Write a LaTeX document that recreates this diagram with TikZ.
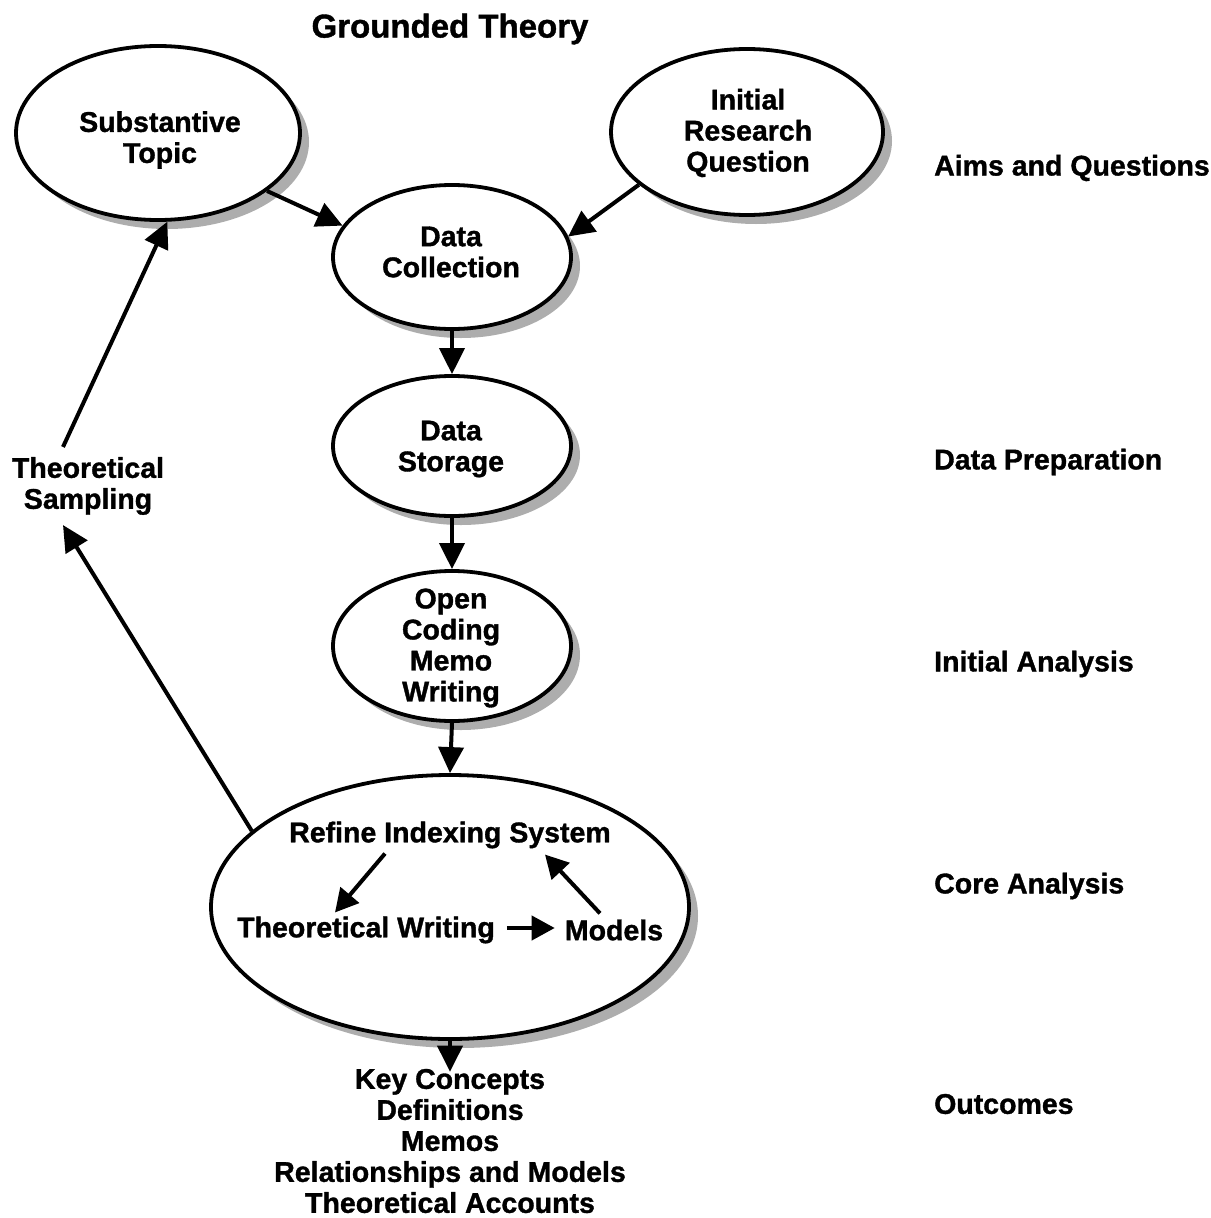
\documentclass[tikz,border=0pt]{standalone}
\usepackage{fontspec}
\setmainfont{Liberation Sans}[BoldFeatures={FakeBold=1.2}]
\usetikzlibrary{shapes.geometric,arrows.meta,shadows,calc}
\begin{document}
\begin{tikzpicture}[x=1pt,y=-1pt,
  txt/.style={font=\bfseries\fontsize{28.5}{31}\selectfont, align=center, inner sep=2pt},
  ell/.style={ellipse, draw=black, line width=3.8pt, fill=white, inner sep=0pt,
    drop shadow={shadow xshift=9pt, shadow yshift=-9pt, fill=gray!75, opacity=0.85}},
  arr/.style={line width=4pt, -{Triangle[length=26pt,width=25pt]}},
  sarr/.style={line width=4pt, -{Triangle[length=23pt,width=24pt]}}
]
\useasboundingbox (0,0) rectangle (1210,1218);

% title
\node[txt, font=\bfseries\fontsize{33}{36}\selectfont] (title) at (450,29) {Grounded Theory};

% stage labels
\node[txt, anchor=west] (l1) at (932,168) {Aims and Questions};
\node[txt, anchor=west] (l2) at (932,462) {Data Preparation};
\node[txt, anchor=west] (l3) at (932,664) {Initial Analysis};
\node[txt, anchor=west] (l4) at (932,886) {Core Analysis};
\node[txt, anchor=west] (l5) at (932,1104) {Outcomes};

% process ellipses
\node[ell, minimum width=284pt, minimum height=174pt] (st) at (158,133) {};
\node[ell, minimum width=272pt, minimum height=166pt] (ir) at (747,132) {};
\node[ell, minimum width=238pt, minimum height=144pt] (dc) at (452,257) {};
\node[ell, minimum width=238pt, minimum height=140pt] (ds) at (452,446) {};
\node[ell, minimum width=238pt, minimum height=150pt] (oc) at (452,646) {};
\node[ell, minimum width=478pt, minimum height=264pt] (core) at (450,907) {};

% ellipse captions
\node[txt] (stt) at (160,140) {Substantive\\Topic};
\node[txt] (irt) at (748,133) {Initial\\Research\\Question};
\node[txt] (dct) at (451,252) {Data\\Collection};
\node[txt] (dst) at (451,449) {Data\\Storage};
\node[txt] (oct) at (451,648) {Open\\Coding\\Memo\\Writing};

% contents of the core analysis ellipse
\node[txt] (ris) at (450,835) {Refine Indexing System};
\node[txt] (tw) at (366,930) {Theoretical Writing};
\node[txt] (mod) at (614,930) {Models};

% theoretical sampling
\node[txt] (ts) at (88,486) {Theoretical\\Sampling};

% outcomes
\node[txt] (out) at (450,1141) {Key Concepts\\Definitions\\Memos\\Relationships and Models\\Theoretical Accounts};

% main flow
\draw[arr] (st.-28) -- (dc.164);
\draw[arr] (ir.206) -- (dc.10);
\draw[arr] (dc.south) -- (ds.north);
\draw[arr] (ds.south) -- (oc.north);
\draw[arr] (oc.south) -- (core.north);
\draw[arr] (core.south) -- ($(out.north)+(0,5)$);

% feedback loop
\draw[arr] (core.159) -- ($(ts.south)+(-25,8)$);
\draw[arr] ($(ts.north)+(-25,-8)$) -- (st.-84);

% inner cycle
\draw[sarr] ($(ris.south)+(-65,3)$) -- ($(tw.north)+(-31,-2)$);
\draw[sarr] ($(tw.east)+(10,-2)$) -- ($(mod.west)+(-8,-2)$);
\draw[sarr] ($(mod.north)+(-14,-4)$) -- ($(ris.south)+(95,4)$);
\end{tikzpicture}
\end{document}
